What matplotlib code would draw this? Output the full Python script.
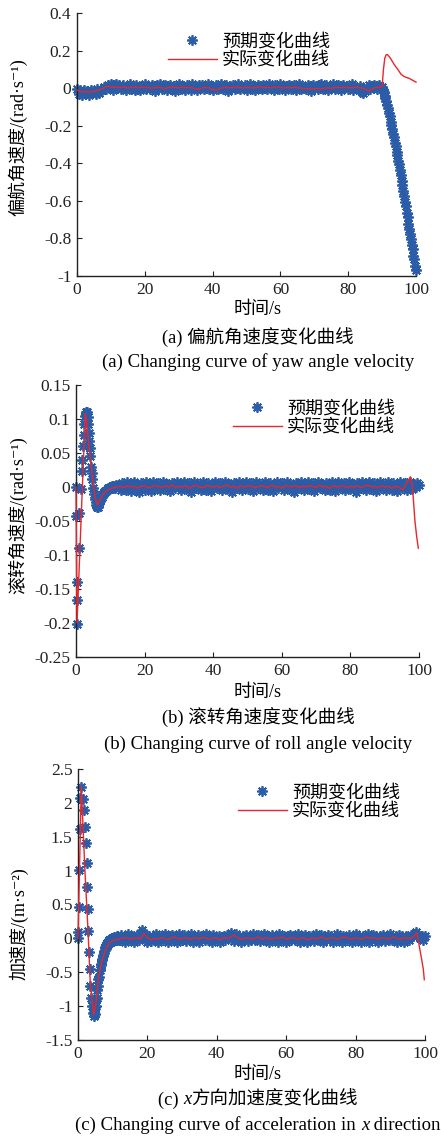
import numpy as np
import matplotlib
matplotlib.use('Agg')
import matplotlib.pyplot as plt
from matplotlib.ticker import FuncFormatter, MultipleLocator
from matplotlib.lines import Line2D

plt.rcParams['font.family'] = ['Liberation Serif', 'Noto Sans CJK SC', 'DejaVu Sans']
plt.rcParams['axes.unicode_minus'] = False

BLUE = '#2b5ca8'
RED = '#e8262b'

LEGEND_LABELS = ['预期变化曲线', '实际变化曲线']
XLABEL = '时间/s'

# ---------------- Panel (a): yaw angle velocity ----------------
a_exp_t = np.arange(0, 90, 0.5)
a_exp_y = [
    -0.005, -0.030, -0.012, -0.034, -0.010, -0.028, -0.016, -0.036, -0.008, -0.027,
    -0.014, -0.032, -0.006, -0.024, -0.011,
    -0.010, 0.008, -0.004, 0.018, 0.002, 0.020, -0.008, 0.014, 0.022, 0.005,
    0.015, -0.006, 0.019, 0.003, -0.012, 0.010, 0.020, -0.002, 0.012, -0.009,
    0.017, 0.001, -0.011, 0.014, 0.005, 0.021, -0.007, 0.009, -0.004, 0.018,
    0.007, -0.013, 0.015, 0.000, 0.020, -0.006, 0.010, 0.017, -0.009, 0.003,
    0.018, -0.004, 0.012, -0.014, 0.007, 0.021, -0.002, 0.014, 0.001, -0.010,
    0.017, 0.005, -0.008, 0.020, 0.000, 0.010, -0.012, 0.015, 0.003, 0.018,
    -0.006, 0.008, 0.021, -0.004, 0.014, -0.010, 0.007, 0.017, -0.002, 0.012,
    0.020, -0.007, 0.005, 0.015, -0.013, 0.010, 0.001, 0.018, -0.006, 0.008,
    0.022, -0.004, 0.012, 0.000, 0.017, -0.009, 0.007, 0.020, -0.002, 0.014,
    -0.012, 0.005, 0.018, 0.003, -0.007, 0.015, 0.010, -0.004, 0.020, 0.001,
    0.012, -0.010, 0.017, 0.007, -0.006, 0.021, 0.000, 0.014, -0.009, 0.010,
    0.018, -0.002, 0.005, 0.015, -0.012, 0.008, 0.020, -0.004, 0.012, 0.001,
    -0.007, 0.017, 0.005, -0.013, 0.018, 0.003, 0.010, -0.006, 0.015, 0.021,
    -0.002, 0.007, 0.017, -0.010, 0.012, 0.000, 0.020, -0.007, 0.008, 0.015,
    0.003, -0.012, 0.018, 0.005, 0.014, -0.004, 0.010, 0.021, -0.009, 0.007,
    0.001, -0.007, 0.010, -0.018, -0.026, -0.014, 0.001, 0.017, -0.006, 0.012,
    0.015, 0.005, -0.004, 0.018, 0.008,
]
a_drop_t = np.arange(90, 100.01, 0.25)
a_drop_y = [
    0.005, -0.012, -0.022, -0.040, -0.052, -0.068, -0.092, -0.108, -0.133, -0.150,
    -0.178, -0.196, -0.218, -0.245, -0.262, -0.290, -0.308, -0.338, -0.355, -0.386,
    -0.405, -0.438, -0.462, -0.494, -0.518, -0.548, -0.572, -0.606, -0.628, -0.662,
    -0.688, -0.722, -0.748, -0.778, -0.802, -0.836, -0.858, -0.892, -0.912, -0.946,
    -0.968,
]
a_red_t = list(range(0, 90)) + [89.5, 90.0, 90.4, 90.8, 91.2, 91.6, 92.0, 92.5, 93.0,
                                93.5, 94.0, 94.5, 95.0, 95.5, 96.0, 96.5, 97.0, 97.5,
                                98.0, 98.5, 99.0, 99.5, 100.0]
a_red_y = [
    -0.010, -0.018, -0.020, -0.019, -0.021, -0.017, -0.012, -0.006, 0.002, 0.010,
    0.006, 0.004, 0.006, 0.003, 0.005, 0.001, 0.004, 0.006, 0.002, 0.005,
    0.003, 0.004, 0.000, 0.003, 0.005, 0.002, -0.002, 0.003, 0.006, 0.004,
    0.002, 0.005, 0.003, 0.004, 0.001, -0.003, -0.006, 0.002, 0.004, 0.001,
    -0.008, -0.010, -0.003, 0.003, 0.005, 0.002, 0.004, 0.006, 0.003, 0.002,
    0.005, 0.003, 0.001, 0.004, 0.008, 0.003, 0.005, 0.002, 0.004, 0.006,
    0.003, 0.001, 0.004, 0.002, 0.005, 0.003, 0.000, -0.004, -0.002, -0.005,
    -0.003, -0.001, -0.004, 0.000, 0.002, -0.002, 0.003, 0.005, 0.002, 0.004,
    0.003, 0.002, 0.004, 0.003, 0.001, -0.006, -0.015, -0.006, 0.003, 0.004,
    0.005, 0.008, 0.100, 0.160, 0.178, 0.178, 0.170, 0.158, 0.143,
    0.128, 0.115, 0.103, 0.090, 0.076, 0.068, 0.062, 0.058, 0.055,
    0.052, 0.047, 0.042, 0.037, 0.032,
]

# ---------------- Panel (b): roll angle velocity ----------------
b_tr_t = [0.0, 0.1, 0.2, 0.28, 0.36, 0.85, 1.0, 1.5, 1.7, 1.85, 2.0, 2.2, 2.4, 2.6,
          2.8, 3.0, 3.2, 3.5, 3.6, 3.8, 3.9, 4.0, 4.2, 4.4, 4.6, 4.8, 5.0, 5.2,
          5.45, 5.7, 5.9, 6.1, 6.3, 6.5, 6.7, 6.9, 7.1, 7.3, 7.5, 7.7, 7.9, 8.1,
          8.3, 8.5, 8.7, 8.9, 9.1, 9.3, 9.5, 9.7, 9.9, 10.1, 10.3, 10.5, 10.7,
          10.9, 11.1, 11.3, 11.5, 11.7, 11.9, 12.1]
b_tr_y = [0.0, -0.042, -0.139, -0.166, -0.202, -0.09, -0.038, -0.003, 0.024, 0.04,
          0.06, 0.077, 0.092, 0.105, 0.11, 0.108, 0.11, 0.103, 0.092, 0.08, 0.068,
          0.057, 0.045, 0.03, 0.02, 0.012, -0.002, -0.01, -0.017, -0.022, -0.026,
          -0.029, -0.03, -0.027, -0.024, -0.021, -0.019, -0.016, -0.015, -0.012,
          -0.011, -0.009, -0.008, -0.006, -0.006, -0.004, -0.004, -0.002, -0.003,
          -0.001, -0.002, 0.000, -0.001, 0.001, -0.001, 0.002, 0.000, 0.002,
          -0.001, 0.003, 0.001, 0.002]
b_st_t = np.arange(12.5, 100.01, 0.5)
b_st_y = [
    0.003, -0.005, 0.006, 0.000, -0.004, 0.007, 0.001, -0.006, 0.004, 0.008,
    -0.002, 0.003, -0.007, 0.006, 0.001, -0.004, 0.007, 0.000, 0.005, -0.006,
    0.008, -0.002, 0.003, 0.006, -0.005, 0.001, 0.007, -0.003, 0.005, 0.000,
    -0.006, 0.006, 0.003, -0.002, 0.008, 0.001, -0.005, 0.004, 0.007, -0.003,
    0.000, 0.006, -0.007, 0.003, 0.008, -0.002, 0.005, 0.001, -0.005, 0.007,
    0.003, -0.004, 0.006, 0.000, -0.006, 0.004, 0.008, -0.002, 0.003, 0.006,
    -0.005, 0.001, 0.007, -0.003, 0.005, 0.000, -0.007, 0.006, 0.003, -0.002,
    0.008, 0.001, -0.005, 0.004, 0.007, -0.003, 0.000, 0.006, -0.006, 0.003,
    0.007, -0.002, 0.005, 0.001, -0.005, 0.008, 0.003, -0.004, 0.006, 0.000,
    -0.006, 0.004, 0.007, -0.002, 0.003, 0.006, -0.005, 0.001, 0.008, -0.003,
    0.005, 0.000, -0.007, 0.006, 0.003, -0.002, 0.007, 0.001, -0.005, 0.004,
    0.008, -0.003, 0.000, 0.006, -0.006, 0.003, 0.007, -0.002, 0.005, 0.001,
    -0.005, 0.006, 0.003, -0.004, 0.008, 0.000, -0.006, 0.004, 0.007, -0.002,
    0.003, 0.006, -0.005, 0.001, 0.007, -0.003, 0.005, 0.000, -0.007, 0.006,
    0.003, -0.002, 0.008, 0.001, -0.005, 0.004, 0.007, -0.003, 0.000, 0.006,
    -0.006, 0.003, 0.007, -0.002, 0.005, 0.001, -0.005, 0.008, 0.003, -0.004,
    0.006, 0.000, -0.006, 0.004, 0.007, -0.002, 0.003, 0.006, -0.005, 0.001,
    0.007, -0.003, 0.005, 0.000, 0.006, 0.003,
]
b_red_tr_t = [0.0, 0.3, 2.7, 3.0, 3.5, 4.0, 4.5, 5.0, 5.5, 6.0, 6.3, 6.7, 7.2, 7.7,
              8.2, 8.8, 9.5, 10.3, 11.0, 12.0]
b_red_tr_y = [0.0, -0.2, 0.108, 0.1, 0.075, 0.05, 0.027, 0.007, -0.012, -0.024,
              -0.026, -0.022, -0.017, -0.012, -0.009, -0.006, -0.004, -0.002,
              -0.001, 0.0]
b_red_st_t = list(range(13, 96))
b_red_st_y = [
    0.001, -0.001, 0.002, 0.000, 0.001, -0.002, 0.001, 0.002, -0.001, 0.000,
    0.002, 0.001, -0.001, 0.002, 0.000, 0.003, -0.001, 0.001, 0.000, 0.002,
    -0.002, 0.001, 0.003, 0.000, -0.001, 0.002, 0.001, 0.000, 0.002, -0.001,
    0.001, 0.003, 0.000, 0.001, -0.002, 0.002, 0.000, 0.001, 0.002, -0.001,
    0.000, 0.002, 0.001, -0.001, 0.003, 0.000, 0.001, -0.002, 0.002, 0.001,
    0.000, 0.002, -0.001, 0.001, 0.000, 0.002, 0.001, -0.001, 0.003, 0.000,
    0.001, -0.002, 0.002, 0.000, 0.001, 0.002, -0.001, 0.001, 0.000, 0.002,
    -0.001, 0.001, 0.003, 0.000, 0.001, -0.001, 0.002, 0.000, 0.001, -0.002,
    0.001, 0.000, -0.003,
]
b_red_end_t = [95.3, 96.0, 96.8, 97.5, 98.1, 98.8, 99.3, 99.8]
b_red_end_y = [-0.004, 0.002, 0.009, 0.015, 0.0, -0.049, -0.072, -0.09]

# ---------------- Panel (c): acceleration in x ----------------
c_tr_t = [0.0, 0.05, 0.15, 0.35, 0.5, 0.7, 0.95, 1.3, 1.7, 2.0, 2.3, 2.5, 2.65,
          2.75, 2.9, 3.2, 3.4, 3.55, 3.75, 4.0, 4.3, 4.55,
          4.7, 4.85, 5.0, 5.15, 5.3, 5.45, 5.6, 5.75, 5.9, 6.05, 6.2, 6.35, 6.5,
          6.65, 6.8, 6.95, 7.1, 7.25, 7.4, 7.55, 7.7, 7.85, 8.0, 8.15, 8.3, 8.45,
          8.6, 8.75, 8.9, 9.05, 9.2, 9.35, 9.5, 9.65, 9.8, 9.95, 10.1, 10.3,
          10.5, 10.7, 10.9, 11.1, 11.3, 11.5, 11.7, 11.9]
c_tr_y = [0.0, 0.1, 0.47, 1.01, 1.62, 2.07, 2.24, 2.06, 1.9, 1.64, 1.41, 1.11,
          0.76, 0.44, 0.11, -0.2, -0.45, -0.7, -0.88, -1.0, -1.1, -1.14,
          -1.08, -1.12, -1.02, -1.0, -0.9, -0.88, -0.76, -0.7, -0.6, -0.57,
          -0.47, -0.46, -0.38, -0.39, -0.3, -0.32, -0.24, -0.26, -0.18, -0.21,
          -0.13, -0.17, -0.1, -0.13, -0.07, -0.11, -0.05, -0.09, -0.03, -0.07,
          -0.02, -0.06, -0.01, -0.05, 0.0, -0.04, 0.01, -0.03, 0.02, -0.02,
          0.02, -0.02, 0.03, -0.01, 0.02, -0.02]
c_st_t = np.arange(12.0, 100.01, 0.5)
c_st_y = [
    -0.03, 0.05, 0.00, -0.06, 0.03, 0.06, -0.02, 0.04, -0.05, 0.01,
    0.05, -0.03, 0.07, 0.12, 0.06, 0.00, -0.06, 0.03, -0.04, 0.04,
    -0.02, 0.06, -0.05, 0.01, 0.04, -0.03, 0.06, 0.00, -0.05, 0.03,
    0.05, -0.02, 0.04, -0.06, 0.07, 0.01, -0.03, 0.05, -0.04, 0.03,
    0.00, 0.06, -0.05, 0.03, -0.02, 0.05, -0.06, 0.04, 0.01, -0.03,
    0.06, -0.02, 0.03, -0.05, 0.05, 0.00, -0.03, 0.04, -0.06, 0.01,
    0.04, -0.03, 0.05, 0.01, 0.08, 0.03, -0.04, 0.06, -0.02, 0.04,
    -0.06, 0.03, 0.00, 0.05, -0.04, 0.04, -0.02, 0.06, -0.03, 0.01,
    0.05, -0.04, 0.03, 0.07, -0.02, 0.04, -0.06, 0.01, 0.05, -0.03,
    0.03, -0.05, 0.06, 0.00, -0.03, 0.04, -0.06, 0.03, 0.05, -0.02,
    0.04, -0.03, 0.01, 0.06, -0.05, 0.03, -0.02, 0.05, -0.06, 0.03,
    0.00, 0.04, -0.04, 0.06, 0.01, -0.03, 0.05, -0.06, 0.03, 0.00,
    0.05, -0.03, 0.04, -0.05, 0.01, 0.06, -0.02, 0.03, -0.06, 0.04,
    0.01, -0.03, 0.05, 0.00, -0.05, 0.04, 0.06, -0.02, 0.03, -0.06,
    0.04, 0.01, -0.03, 0.07, -0.05, 0.03, 0.05, -0.02, 0.04, -0.06,
    0.03, 0.00, 0.05, -0.04, 0.04, -0.02, 0.06, -0.03, 0.01, 0.04,
    -0.05, 0.05, 0.00, 0.03, -0.06, 0.04, 0.01, -0.03, 0.05, 0.03,
    0.07, 0.10, 0.05, 0.00, 0.04, -0.03, 0.03,
]
c_red_tr_t = [0.0, 0.95, 2.0, 2.9, 3.55, 4.5, 5.2, 5.9, 6.7, 7.9, 8.8, 9.7, 10.7,
              11.7, 12.7]
c_red_tr_y = [0.0, 2.24, 1.0, 0.1, -0.67, -1.13, -0.95, -0.58, -0.37, -0.17,
              -0.08, -0.04, -0.02, -0.01, 0.0]
c_red_st_t = list(range(13, 97))
c_red_st_y = [
    0.00, 0.01, -0.01, 0.00, 0.01, -0.01, 0.07, 0.01, -0.02, 0.00,
    -0.01, 0.01, 0.00, -0.02, 0.01, 0.02, -0.01, 0.00, 0.01, -0.01,
    0.00, 0.01, -0.01, 0.02, 0.00, -0.01, 0.01, 0.00, -0.02, 0.01,
    0.00, 0.02, 0.05, 0.01, -0.01, 0.00, 0.01, -0.01, 0.00, 0.02,
    -0.01, 0.01, 0.00, -0.01, 0.01, 0.00, 0.02, -0.01, 0.00, 0.01,
    -0.01, 0.00, 0.01, -0.02, 0.00, 0.01, -0.01, 0.02, 0.00, -0.01,
    0.01, 0.00, -0.01, 0.01, 0.02, 0.00, -0.01, 0.01, 0.00, -0.01,
    0.02, 0.00, 0.01, -0.01, 0.00, 0.01, -0.01, 0.00, 0.02, 0.00,
    -0.01, 0.01, 0.00, 0.00,
]
c_red_end_t = [97.0, 97.7, 98.3, 99.0, 99.5, 99.8]
c_red_end_y = [0.04, 0.08, -0.1, -0.3, -0.45, -0.61]

# ---------------- figure ----------------
W, H = 441, 1138
fig = plt.figure(figsize=(W / 100, H / 100), dpi=100)


def px_axes(left, top, right, bottom):
    return fig.add_axes([left / W, 1 - bottom / H, (right - left) / W, (bottom - top) / H])


def fmt(v, p):
    return '%g' % (round(v, 6) + 0.0)


STAR = (8, 2, 0)
MS = 7.5
MEW = 1.3


def draw_panel(ax, exp_parts, red_parts, ylim, ystep, legend_xy):
    for t, y in exp_parts:
        ax.plot(t, y, linestyle='none', marker=STAR, markersize=MS, markeredgewidth=MEW,
                color=BLUE, clip_on=False, zorder=2)
    for t, y in red_parts:
        ax.plot(t, y, color=RED, linewidth=1.0, zorder=3, clip_on=False)
    ax.set_xlim(0, 100)
    ax.set_ylim(*ylim)
    for s in ['top', 'right']:
        ax.spines[s].set_visible(False)
    for s in ['left', 'bottom']:
        ax.spines[s].set_linewidth(1.0)
        ax.spines[s].set_color('#222222')
    ax.xaxis.set_major_locator(MultipleLocator(20))
    ax.yaxis.set_major_locator(MultipleLocator(ystep))
    ax.xaxis.set_major_formatter(FuncFormatter(fmt))
    ax.yaxis.set_major_formatter(FuncFormatter(fmt))
    ax.tick_params(direction='in', length=3.5, width=0.8, labelsize=12.5, pad=4,
                   colors='#222222')
    handles = [Line2D([], [], linestyle='none', marker=STAR, markersize=MS,
                      markeredgewidth=MEW, color=BLUE),
               Line2D([], [], color=RED, linewidth=1.0)]
    ax.legend(handles, LEGEND_LABELS, loc='center left',
              bbox_to_anchor=(legend_xy[0] / W, 1 - legend_xy[1] / H),
              bbox_transform=fig.transFigure, frameon=False, fontsize=13,
              handlelength=2.7, handletextpad=0.3, borderpad=0, borderaxespad=0,
              labelspacing=0.1)


ax_a = px_axes(77, 13, 416, 276)
draw_panel(ax_a, [(a_exp_t, a_exp_y), (a_drop_t, a_drop_y)], [(a_red_t, a_red_y)],
           (-1, 0.4), 0.2, (168, 51))

ax_b = px_axes(76, 385, 419, 657)
draw_panel(ax_b, [(b_tr_t, b_tr_y), (b_st_t, b_st_y)],
           [(b_red_tr_t + b_red_st_t + b_red_end_t, b_red_tr_y + b_red_st_y + b_red_end_y)],
           (-0.25, 0.15), 0.05, (233, 418))

ax_c = px_axes(78, 769, 425, 1040)
draw_panel(ax_c, [(c_tr_t, c_tr_y), (c_st_t, c_st_y)],
           [(c_red_tr_t + c_red_st_t + c_red_end_t, c_red_tr_y + c_red_st_y + c_red_end_y)],
           (-1.5, 2.5), 0.5, (238, 802))

# y labels
fig.text(17.5 / W, 1 - 137 / H, '偏航角速度/(rad·s⁻¹)', rotation=90, ha='center', va='center', fontsize=13)
fig.text(17.5 / W, 1 - 515 / H, '滚转角速度/(rad·s⁻¹)', rotation=90, ha='center', va='center', fontsize=13)
fig.text(19 / W, 1 - 924 / H, '加速度/(m·s⁻²)', rotation=90, ha='center', va='center', fontsize=13)

XC = 258
for yy in (310, 693, 1075):
    fig.text(XC / W, 1 - yy / H, XLABEL, ha='center', va='center', fontsize=13)

CN_SIZE = 13.3
EN_SIZE = 13.5
fig.text(XC / W, 1 - 338 / H, '(a) 偏航角速度变化曲线', ha='center', va='center', fontsize=CN_SIZE)
fig.text(XC / W, 1 - 362 / H, '(a) Changing curve of yaw angle velocity', ha='center', va='center', fontsize=EN_SIZE)
fig.text(XC / W, 1 - 718 / H, '(b) 滚转角速度变化曲线', ha='center', va='center', fontsize=CN_SIZE)
fig.text(XC / W, 1 - 744 / H, '(b) Changing curve of roll angle velocity', ha='center', va='center', fontsize=EN_SIZE)


def rich_line(yc, segments, size):
    renderer = fig.canvas.get_renderer()
    objs = []
    for s, style in segments:
        t = fig.text(0, 1 - yc / H, s, fontstyle=style, fontsize=size, ha='left', va='center')
        objs.append(t)
    widths = [o.get_window_extent(renderer).width for o in objs]
    x = XC - sum(widths) / 2
    for o, w in zip(objs, widths):
        o.set_x(x / W)
        x += w


rich_line(1100, [('(c) ', 'normal'), ('x', 'italic'), ('方向加速度变化曲线', 'normal')], CN_SIZE)
rich_line(1125, [('(c) Changing curve of acceleration in ', 'normal'), ('x', 'italic'),
                 (' direction', 'normal')], EN_SIZE)

fig.savefig('out.png', dpi=100)
